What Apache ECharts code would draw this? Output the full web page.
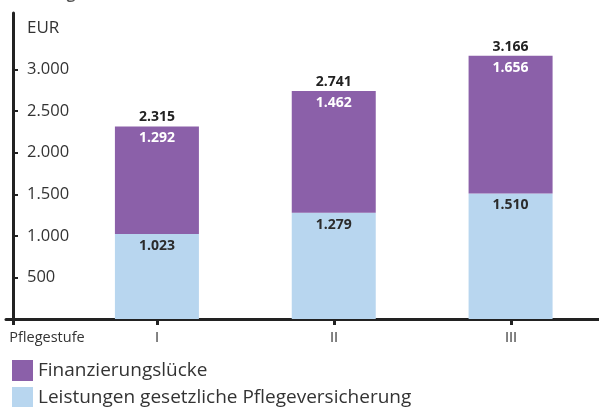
<!DOCTYPE html>
<html>
<head>
<meta charset="utf-8">
<script src="https://cdn.jsdelivr.net/npm/echarts@6/dist/echarts.min.js"></script>
<style>
  html, body { margin: 0; padding: 0; background: #fff; }
  #chart { width: 599px; height: 407px; }
</style>
</head>
<body>
<div id="chart"></div>
<script>
// Pflegekosten je Pflegestufe (EUR)
const categories = ['I', 'II', 'III'];
const gesetzlich = [1023, 1279, 1510];
const luecke = [1292, 1462, 1656];
const totals = [2315, 2741, 3166];
const yTicks = [500, 1000, 1500, 2000, 2500, 3000];

const fmt = v => String(v).replace(/\B(?=(\d{3})+(?!\d))/g, '.');

// grid 0 carries the visible axes (origin tick "Pflegestufe" sits at the y axis),
// grid 1 carries the category bars
const xMin = 0.1469, xMax = 3.4972;
const originTick = 0.1864, originLabel = 0.3785;
const pos = categories.map((c, i) => i + 1);
const yMax = 3680;

const font = '"Open Sans", "Noto Sans", sans-serif';

const chart = echarts.init(document.getElementById('chart'));
chart.setOption({
  animation: false,
  textStyle: { fontFamily: font },
  title: {
    text: 'im Pflegeheim',
    left: 10,
    top: -18,
    textStyle: { fontSize: 15, fontWeight: 'bold', color: '#555', fontFamily: font }
  },
  grid: [
    { left: 6, right: 0, top: 13, bottom: 88 },
    { left: 68.5, right: 0, top: 13, bottom: 88 }
  ],
  legend: {
    data: ['Finanzierungslücke', 'Leistungen gesetzliche Pflegeversicherung'],
    orient: 'vertical',
    left: 12,
    top: 360,
    height: 80,
    padding: 0,
    icon: 'rect',
    itemWidth: 21,
    itemHeight: 21,
    itemGap: 6,
    textStyle: { fontSize: 19, color: '#333', fontFamily: font }
  },
  xAxis: [
    {
      type: 'value',
      gridIndex: 0,
      min: xMin,
      max: xMax,
      splitLine: { show: false },
      axisLine: { show: true, lineStyle: { color: '#222', width: 3 } },
      axisTick: {
        show: true,
        customValues: [originTick].concat(pos),
        length: 6,
        lineStyle: { color: '#222', width: 3 }
      },
      axisLabel: {
        customValues: [originLabel].concat(pos),
        formatter: v => v < 0.9 ? 'Pflegestufe' : categories[Math.round(v) - 1],
        color: '#333',
        fontSize: 14.5,
        margin: 11,
        showMinLabel: true,
        showMaxLabel: true
      }
    },
    {
      type: 'category',
      gridIndex: 1,
      data: categories,
      show: false
    }
  ],
  yAxis: [
    {
      type: 'value',
      gridIndex: 0,
      min: 0,
      max: yMax,
      offset: -7,
      name: 'EUR',
      nameLocation: 'end',
      nameGap: -24,
      nameTextStyle: { align: 'left', padding: [0, 0, 0, 14], color: '#333', fontSize: 17 },
      splitLine: { show: false },
      axisLine: { show: true, lineStyle: { color: '#222', width: 3 } },
      axisTick: {
        show: true,
        inside: true,
        customValues: yTicks,
        length: 5,
        lineStyle: { color: '#222', width: 2 }
      },
      axisLabel: {
        inside: true,
        customValues: yTicks,
        formatter: v => fmt(v),
        color: '#333',
        fontSize: 16.5,
        margin: 14
      }
    },
    {
      type: 'value',
      gridIndex: 1,
      min: 0,
      max: yMax,
      show: false
    }
  ],
  series: [
    {
      name: 'Leistungen gesetzliche Pflegeversicherung',
      type: 'bar',
      xAxisIndex: 1,
      yAxisIndex: 1,
      stack: 'kosten',
      barWidth: 84,
      itemStyle: { color: '#b8d6ef' },
      label: {
        show: true,
        position: 'insideTop',
        distance: 5,
        formatter: p => fmt(p.value),
        color: '#2b2b2b',
        fontWeight: 'bold',
        fontSize: 14
      },
      data: gesetzlich
    },
    {
      name: 'Finanzierungslücke',
      type: 'bar',
      xAxisIndex: 1,
      yAxisIndex: 1,
      stack: 'kosten',
      barWidth: 84,
      itemStyle: { color: '#8b60a9' },
      label: {
        show: true,
        position: 'insideTop',
        distance: 5,
        formatter: p => fmt(p.value),
        color: '#fff',
        fontWeight: 'bold',
        fontSize: 14
      },
      data: luecke
    },
    {
      name: 'Summe',
      type: 'bar',
      xAxisIndex: 1,
      yAxisIndex: 1,
      stack: 'kosten',
      barWidth: 84,
      itemStyle: { color: 'transparent' },
      label: {
        show: true,
        position: 'top',
        distance: 2,
        formatter: p => fmt(totals[p.dataIndex]),
        color: '#222',
        fontWeight: 'bold',
        fontSize: 14
      },
      data: totals.map(() => 0)
    }
  ]
});
</script>
</body>
</html>
